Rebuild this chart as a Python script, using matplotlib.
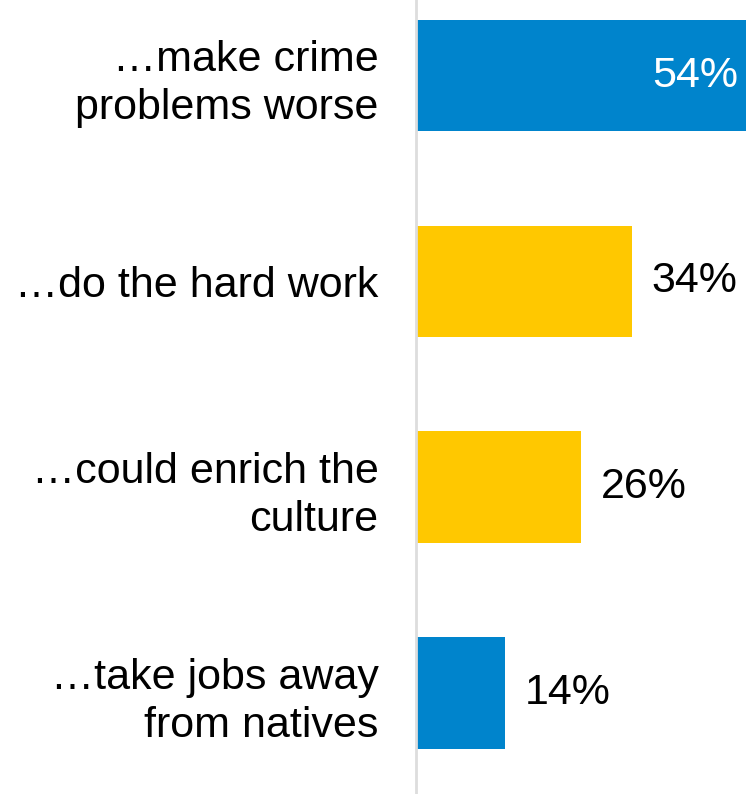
import matplotlib
matplotlib.use("Agg")
import matplotlib.pyplot as plt

categories = ["…make crime\nproblems worse", "…do the hard work",
              "…could enrich the\nculture", "…take jobs away\nfrom natives"]
values = [54, 34, 26, 14]
labels = ["54%", "34%", "26%", "14%"]
colors = ["#0084CC", "#FFC800", "#FFC800", "#0084CC"]

plt.rcParams['font.family'] = ['Liberation Sans', 'DejaVu Sans']

fig = plt.figure(figsize=(7.46, 7.94), dpi=100)
ax = fig.add_axes([416/746, 0, 1 - 416/746, 1])
y = list(range(len(values)))
ax.barh(y, values, height=0.542, color=colors)
ax.set_xlim(0, 52)
ax.set_ylim(3.49, -0.367)

for yi, v, lab in zip(y, values, labels):
    if v > 52:
        ax.annotate(lab, xy=(1.0, yi), xycoords=('axes fraction', 'data'),
                    xytext=(-8, 0), textcoords='offset pixels',
                    ha='right', va='center', color='white', fontsize=31)
    else:
        ax.annotate(lab, xy=(v, yi), xytext=(20, 0), textcoords='offset pixels',
                    ha='left', va='center', color='black', fontsize=31)

ax.set_yticks(y)
ax.set_yticklabels(categories, fontsize=31, linespacing=1.26, ha='right')
ax.tick_params(axis='y', length=0, pad=27)
ax.set_xticks([])
for s in ['top', 'right', 'bottom']:
    ax.spines[s].set_visible(False)
ax.spines['left'].set_color('#DDDDDD')
ax.spines['left'].set_linewidth(2)

fig.savefig("out.png", dpi=100)
